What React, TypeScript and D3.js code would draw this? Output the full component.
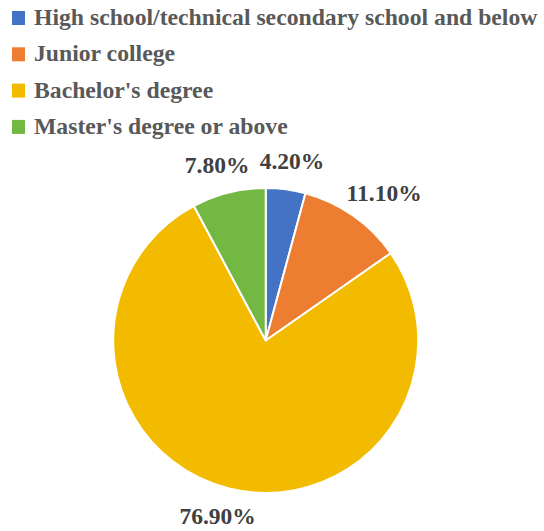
import React from "react";
import * as d3 from "d3";

const categories = [
  "High school/technical secondary school and below",
  "Junior college",
  "Bachelor's degree",
  "Master's degree or above",
];
const values = [4.2, 11.1, 76.9, 7.8];
const labels = ["4.20%", "11.10%", "76.90%", "7.80%"];
const colors = ["#4472C4", "#ED7D31", "#F3BB00", "#73B843"];

export default function App() {
  const width = 544;
  const height = 531;
  const cx = 265.7;
  const cy = 340.5;
  const r = 152.5;
  const labelSize = 23.5;
  const labelR = 169;
  const pie = d3.pie<number>().sort(null).value((d) => d)(values);
  const arc = d3.arc<d3.PieArcDatum<number>>().innerRadius(0).outerRadius(r);
  const font = "'Liberation Serif', 'Times New Roman', serif";
  return (
    <svg
      width={width}
      height={height}
      style={{ position: "absolute", left: 0, top: 0, background: "#fff" }}
    >
      {categories.map((c, i) => (
        <g key={c} transform={`translate(0, ${i * 36.3})`}>
          <rect x={12} y={11} width={13} height={14} fill={colors[i]} />
          <text
            x={34}
            y={25}
            fontFamily={font}
            fontWeight="bold"
            fontSize={23.7}
            fill="#595959"
          >
            {c}
          </text>
        </g>
      ))}
      <g transform={`translate(${cx}, ${cy})`}>
        {pie.map((d, i) => (
          <path
            key={i}
            d={arc(d) || ""}
            fill={colors[i]}
            stroke="#fff"
            strokeWidth={2}
            strokeLinejoin="round"
          />
        ))}
        {pie.map((d, i) => {
          const a = (d.startAngle + d.endAngle) / 2;
          const s = Math.sin(a);
          const co = Math.cos(a);
          const txt = labels[i];
          const digits = txt.replace(/[^0-9]/g, "").length;
          const w = labelSize * (digits * 0.5 + 0.25 + 0.9);
          const h = labelSize;
          const x = labelR * s + (s * w) / 2;
          const y = -labelR * co - (co * h) / 2;
          return (
            <text
              key={"l" + i}
              x={x}
              y={y}
              textAnchor="middle"
              dominantBaseline="central"
              fontFamily={font}
              fontWeight="bold"
              fontSize={labelSize}
              fill="#404040"
            >
              {txt}
            </text>
          );
        })}
      </g>
    </svg>
  );
}
